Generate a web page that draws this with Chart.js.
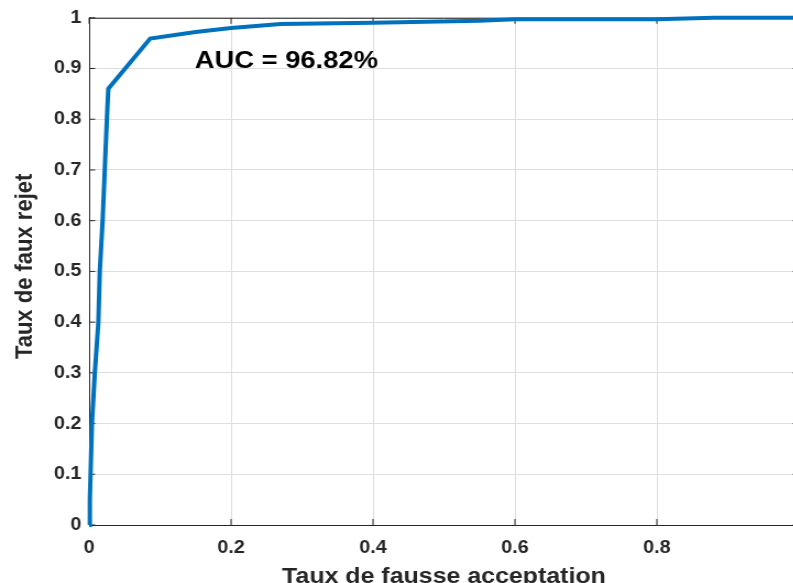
<!DOCTYPE html>
<html>
<head>
<meta charset="utf-8">
<script src="https://cdn.jsdelivr.net/npm/chart.js"></script>
<style>
html, body { margin: 0; padding: 0; background: #fff; overflow: hidden; }
#wrap { width: 793px; height: 583px; overflow: hidden; }
#roc { display: block; }
</style>
</head>
<body>
<div id="wrap"><canvas id="roc"></canvas></div>
<script>
"use strict"

// courbe ROC
const fausseAcceptation = [0, 0.001, 0.002, 0.004, 0.008, 0.013, 0.015, 0.019, 0.022, 0.025, 0.027,
                           0.086, 0.15, 0.2, 0.27, 0.4, 0.55, 0.6, 0.8, 0.88, 1];
const fauxRejet = [0, 0.05, 0.1, 0.2, 0.3, 0.4, 0.5, 0.6, 0.7, 0.8, 0.86,
                   0.959, 0.972, 0.98, 0.988, 0.99, 0.994, 0.997, 0.997, 1, 1];

const xTicks = [0, 0.2, 0.4, 0.6, 0.8, 1];
const yTicks = [0, 0.1, 0.2, 0.3, 0.4, 0.5, 0.6, 0.7, 0.8, 0.9, 1];

const xTitle = 'Taux de fausse acceptation';
const yTitle = 'Taux de faux rejet';
const aucText = 'AUC = 96.82%';

// the figure is drawn narrow then stretched sideways by css
const W = 728, H = 583, SX = 1.1;
const FONT = '"Liberation Sans", Arial, sans-serif';
const AXE = '#262626';

const canvas = document.getElementById('roc');
canvas.width = W;
canvas.height = H;

const points = fausseAcceptation.map((v, i) => ({x: v, y: fauxRejet[i]}));

const cadre = {
  id: 'cadre',
  beforeDatasetsDraw(chart) {
    const {ctx, chartArea: a, scales: {x, y}} = chart;
    ctx.save();
    ctx.strokeStyle = AXE;
    ctx.lineWidth = 1;
    ctx.beginPath();
    ctx.moveTo(a.left, a.top + 0.5);
    ctx.lineTo(a.right, a.top + 0.5);
    ctx.moveTo(a.right - 0.5, a.top);
    ctx.lineTo(a.right - 0.5, a.bottom);
    xTicks.forEach(v => {
      const px = x.getPixelForValue(v);
      ctx.moveTo(px, a.bottom);
      ctx.lineTo(px, a.bottom - 6);
      ctx.moveTo(px, a.top);
      ctx.lineTo(px, a.top + 6);
    });
    yTicks.forEach(v => {
      const py = y.getPixelForValue(v);
      ctx.moveTo(a.left, py);
      ctx.lineTo(a.left + 6 / SX, py);
      ctx.moveTo(a.right, py);
      ctx.lineTo(a.right - 6 / SX, py);
    });
    ctx.stroke();
    ctx.restore();
  },
  afterDraw(chart) {
    const {ctx, chartArea: a, scales: {x, y}} = chart;
    ctx.save();
    ctx.fillStyle = AXE;
    ctx.font = 'bold 22px ' + FONT;
    ctx.textAlign = 'center';
    ctx.textBaseline = 'middle';
    ctx.save();
    ctx.translate((a.left + a.right) / 2, 577);
    ctx.scale(1.03, 1);
    ctx.fillText(xTitle, 0, 0);
    ctx.restore();

    ctx.translate(23, (a.top + a.bottom) / 2 - 5);
    ctx.rotate(-Math.PI / 2);
    ctx.fillText(yTitle, 0, 0);
    ctx.restore();

    ctx.save();
    ctx.fillStyle = '#000';
    ctx.font = 'bold 23px ' + FONT;
    ctx.textAlign = 'left';
    ctx.textBaseline = 'middle';
    ctx.translate(x.getPixelForValue(0.149), y.getPixelForValue(0.913));
    ctx.scale(1.08, 1);
    ctx.fillText(aucText, 0, 0);
    ctx.restore();
  }
};

const roc = new Chart(canvas, {
  type: 'scatter',
  data: {
    datasets: [{
      data: points,
      showLine: true,
      borderColor: '#0072BD',
      borderWidth: 4,
      pointRadius: 0,
      fill: false,
      tension: 0,
      clip: 5
    }]
  },
  options: {
    responsive: false,
    animation: false,
    devicePixelRatio: 1,
    layout: { padding: { top: 17, right: 2, left: 0, bottom: 0 } },
    plugins: {
      legend: { display: false },
      tooltip: { enabled: false }
    },
    scales: {
      x: {
        type: 'linear',
        min: 0,
        max: 1,
        afterBuildTicks: s => { s.ticks = xTicks.map(v => ({value: v})); },
        afterFit: s => { s.height = 58; s.paddingRight = 0; s.paddingLeft = 0; },
        grid: { color: '#dedede', drawTicks: false },
        border: { color: AXE, width: 1 },
        ticks: {
          padding: 12,
          color: AXE,
          font: { family: FONT, size: 18, weight: 'bold' },
          // the last label falls past the right edge of the page
          callback: v => (v === 1 ? '' : String(v))
        }
      },
      y: {
        type: 'linear',
        min: 0,
        max: 1,
        afterBuildTicks: s => { s.ticks = yTicks.map(v => ({value: v})); },
        afterFit: s => { s.width = 81; },
        grid: { color: '#dedede', drawTicks: false },
        border: { color: AXE, width: 1 },
        ticks: {
          padding: 7,
          color: AXE,
          font: { family: FONT, size: 18, weight: 'bold' },
          callback: v => String(v)
        }
      }
    }
  },
  plugins: [cadre]
});

canvas.style.width = (W * SX) + 'px';
canvas.style.height = H + 'px';
</script>
</body>
</html>
